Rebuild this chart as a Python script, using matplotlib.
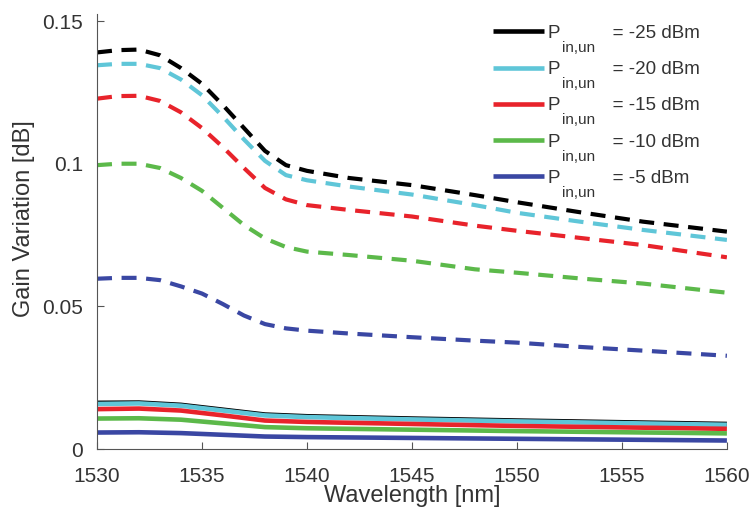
import matplotlib
matplotlib.use("Agg")
import matplotlib.pyplot as plt

plt.rcParams['font.family'] = ['Liberation Sans', 'DejaVu Sans']

# wavelength grids [nm]
wl_dash = [1530, 1531, 1532, 1533, 1534, 1535, 1536, 1537, 1538, 1539,
           1540, 1542, 1545, 1548, 1550, 1553, 1556, 1560]
wl_solid = [1530, 1532, 1534, 1536, 1538, 1540, 1545, 1550, 1555, 1560]

labels = ['-25 dBm', '-20 dBm', '-15 dBm', '-10 dBm', '-5 dBm']
colors = ['#000000', '#5fc6d8', '#e8232b', '#5cb94a', '#3a47a3']

# dashed curves (gain variation, dB)
dash_m25 = [0.139, 0.1398, 0.140, 0.138, 0.1335, 0.128, 0.1205, 0.1125, 0.1045, 0.0995,
            0.0975, 0.095, 0.0925, 0.089, 0.0865, 0.083, 0.0797, 0.0762]
dash_m20 = [0.1345, 0.135, 0.135, 0.1335, 0.1295, 0.124, 0.1165, 0.1085, 0.101, 0.096,
            0.0942, 0.092, 0.0892, 0.0855, 0.0828, 0.0797, 0.0768, 0.0733]
dash_m15 = [0.1228, 0.1237, 0.1238, 0.122, 0.118, 0.1125, 0.1058, 0.0985, 0.0915, 0.0875,
            0.0855, 0.0838, 0.0815, 0.0783, 0.0765, 0.074, 0.0715, 0.0672]
dash_m10 = [0.0995, 0.100, 0.100, 0.0985, 0.095, 0.0905, 0.0845, 0.0785, 0.0738, 0.0708,
            0.0692, 0.068, 0.066, 0.063, 0.0618, 0.0598, 0.058, 0.0548]
dash_m5 = [0.0597, 0.060, 0.060, 0.0592, 0.057, 0.0545, 0.0508, 0.0468, 0.0438, 0.0423,
           0.0415, 0.0405, 0.0392, 0.038, 0.0373, 0.0358, 0.0345, 0.0327]

# solid curves
solid_m25 = [0.0162, 0.0163, 0.0155, 0.0138, 0.0121, 0.0115, 0.0107, 0.0100, 0.0094, 0.0088]
solid_m20 = [0.0158, 0.0160, 0.0152, 0.0135, 0.0118, 0.0112, 0.0104, 0.0097, 0.0091, 0.0085]
solid_m15 = [0.0140, 0.0142, 0.0135, 0.0118, 0.0100, 0.0095, 0.0088, 0.0081, 0.0076, 0.0071]
solid_m10 = [0.0107, 0.0108, 0.0103, 0.0090, 0.0077, 0.0073, 0.0068, 0.0063, 0.0059, 0.0055]
solid_m5 = [0.0058, 0.0059, 0.0056, 0.0050, 0.0044, 0.0042, 0.0039, 0.0036, 0.0033, 0.0030]

dashed = [dash_m25, dash_m20, dash_m15, dash_m10, dash_m5]
solid = [solid_m25, solid_m20, solid_m15, solid_m10, solid_m5]

fig = plt.figure(figsize=(7.49, 5.15), dpi=100)
ax = fig.add_axes([0.1295, 0.128, 0.841, 0.845])

handles = []
for ys, c in zip(solid, colors):
    h, = ax.plot(wl_solid, ys, color=c, lw=3.3, solid_capstyle='butt')
    handles.append(h)
for ys, c in zip(dashed, colors):
    ax.plot(wl_dash, ys, color=c, lw=3, dashes=(3.6, 2.3))

ax.set_xlim(1530, 1560)
ax.set_ylim(0, 0.1525)
ax.set_xticks([1530, 1535, 1540, 1545, 1550, 1555, 1560])
ax.set_yticks([0, 0.05, 0.1, 0.15])
ax.set_yticklabels(['0', '0.05', '0.1', '0.15'])
ax.spines['top'].set_visible(False)
ax.spines['right'].set_visible(False)
for s in ['left', 'bottom']:
    ax.spines[s].set_color('#555555')
ax.tick_params(direction='in', length=5, labelsize=15, colors='#555555',
               labelcolor='#333333')
ax.tick_params(axis='x', pad=13)
ax.tick_params(axis='y', pad=10)
ax.set_xlabel('Wavelength [nm]', fontsize=17, color='#333333', labelpad=-1)
ax.set_ylabel('Gain Variation [dB]', fontsize=17, color='#333333')
ax.yaxis.set_label_coords(-0.098, 0.53)

# legend: "P" + subscript "in,un" placed under the gap
leg_labels = ['P          = ' + lab for lab in labels]
leg = ax.legend(handles, leg_labels, loc='upper left', bbox_to_anchor=(0.628, 0.975),
                frameon=False, fontsize=13.5, handlelength=2.75, handletextpad=0.18,
                labelspacing=1.02, borderpad=0, borderaxespad=0)
for t in leg.get_texts():
    t.set_color('#333333')

fig.canvas.draw()
renderer = fig.canvas.get_renderer()
probe = fig.text(0, 0, 'P', fontsize=13.5)
p_width = probe.get_window_extent(renderer).width
probe.remove()
inv = fig.transFigure.inverted()
for t in leg.get_texts():
    bb = t.get_window_extent(renderer)
    x, y = inv.transform((bb.x0 + p_width + 2, bb.y0 + 1))
    fig.text(x, y, 'in,un', fontsize=11, color='#333333', va='top', ha='left')

fig.savefig('out.png', dpi=100)
